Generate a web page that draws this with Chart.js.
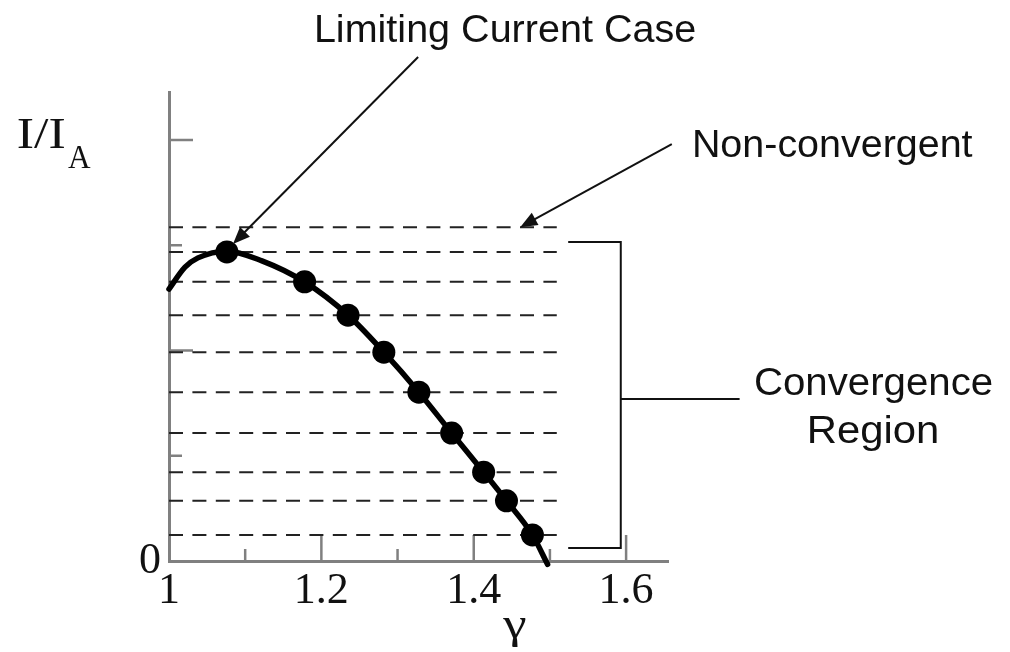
<!DOCTYPE html>
<html>
<head>
<meta charset="utf-8">
<title>Limiting Current Case</title>
<script src="https://cdn.jsdelivr.net/npm/chart.js@4.4.1/dist/chart.umd.min.js"></script>
<style>
  html, body { margin: 0; padding: 0; background: #fff; }
  canvas { display: block; }
</style>
</head>
<body>
<canvas id="grafico" width="1010" height="652"></canvas>
<script>
// Curva I/I_A em função de gamma
const curveGamma   = [1.000, 1.021, 1.038, 1.076, 1.122, 1.178, 1.235, 1.282, 1.328, 1.371, 1.413, 1.443, 1.477, 1.497];
const curveCurrent = [0.646, 0.698, 0.720, 0.736, 0.713, 0.663, 0.584, 0.496, 0.401, 0.304, 0.211, 0.143, 0.062, -0.008];

// Pontos marcados sobre a curva
const pointGamma   = [1.076, 1.178, 1.235, 1.282, 1.328, 1.371, 1.413, 1.443, 1.477];
const pointCurrent = [0.734, 0.663, 0.584, 0.496, 0.401, 0.304, 0.211, 0.143, 0.062];

// Níveis tracejados (o primeiro é o caso não convergente)
const levelCurrent = [0.793, 0.734, 0.663, 0.584, 0.496, 0.401, 0.304, 0.211, 0.143, 0.062];
const levelGamma   = [1.0, 1.509];

// Eixos
const xTickValues = [1, 1.1, 1.2, 1.3, 1.4, 1.5, 1.6];
const xTickLabels = ['1', '', '1.2', '', '1.4', '', '1.6'];
const yTickValues = [0, 0.25, 0.5, 0.75, 1];
const yTickLabels = ['0', '', '', '', ''];

const INK = '#111';
const AXIS_GRAY = '#808080';
const SERIF = '"Liberation Serif", "Times New Roman", serif';
const SANS = '"Liberation Sans", Arial, sans-serif';

// escreve um texto esticado para ocupar a largura vista na figura
const drawText = (ctx, str, left, right, baseline, font) => {
    ctx.font = font;
    const m = ctx.measureText(str);
    const ink = m.actualBoundingBoxLeft + m.actualBoundingBoxRight;
    const s = (right - left) / ink;
    ctx.save();
    ctx.translate(left + m.actualBoundingBoxLeft * s, baseline);
    ctx.scale(s, 1);
    ctx.textAlign = 'left';
    ctx.textBaseline = 'alphabetic';
    ctx.fillStyle = INK;
    ctx.fillText(str, 0, 0);
    ctx.restore();
};

const drawArrow = (ctx, x0, y0, x1, y1) => {
    const ang = Math.atan2(y1 - y0, x1 - x0);
    const len = 17, half = 7;
    ctx.beginPath();
    ctx.moveTo(x0, y0);
    ctx.lineTo(x1 - Math.cos(ang) * len * 0.8, y1 - Math.sin(ang) * len * 0.8);
    ctx.stroke();
    ctx.beginPath();
    ctx.moveTo(x1, y1);
    ctx.lineTo(x1 - Math.cos(ang) * len - Math.sin(ang) * half, y1 - Math.sin(ang) * len + Math.cos(ang) * half);
    ctx.lineTo(x1 - Math.cos(ang) * len + Math.sin(ang) * half, y1 - Math.sin(ang) * len - Math.cos(ang) * half);
    ctx.closePath();
    ctx.fill();
};

const anotacoes = {
    id: 'anotacoes',
    beforeDatasetsDraw(chart) {
        // marcas dos eixos voltadas para dentro
        const ctx = chart.ctx;
        const xs = chart.scales.x, ys = chart.scales.y;
        const x0 = xs.getPixelForValue(1), y0 = ys.getPixelForValue(0);
        ctx.save();
        ctx.strokeStyle = AXIS_GRAY;
        ctx.lineWidth = 2.5;
        xTickValues.slice(1).forEach((v, i) => {
            const px = xs.getPixelForValue(v);
            const len = xTickLabels[i + 1] ? 26 : 12;
            ctx.beginPath();
            ctx.moveTo(px, y0);
            ctx.lineTo(px, y0 - len);
            ctx.stroke();
        });
        yTickValues.slice(1).forEach(v => {
            const py = ys.getPixelForValue(v);
            const len = (v * 2) % 1 === 0 ? 24 : 13;
            ctx.beginPath();
            ctx.moveTo(x0, py);
            ctx.lineTo(x0 + len, py);
            ctx.stroke();
        });
        ctx.restore();
    },
    afterDraw(chart) {
        const ctx = chart.ctx;
        const xs = chart.scales.x, ys = chart.scales.y;
        const X = v => xs.getPixelForValue(v);
        const Y = v => ys.getPixelForValue(v);
        ctx.save();
        ctx.strokeStyle = INK;
        ctx.fillStyle = INK;
        ctx.lineWidth = 2;

        // setas
        drawArrow(ctx, X(1.327), Y(1.197), X(1.084), Y(0.753));
        drawArrow(ctx, X(1.660), Y(0.990), X(1.461), Y(0.793));

        // chave da região de convergência
        ctx.beginPath();
        ctx.moveTo(X(1.524), Y(0.758));
        ctx.lineTo(X(1.593), Y(0.758));
        ctx.lineTo(X(1.593), Y(0.031));
        ctx.lineTo(X(1.524), Y(0.031));
        ctx.moveTo(X(1.593), Y(0.385));
        ctx.lineTo(X(1.749), Y(0.385));
        ctx.stroke();

        // textos
        drawText(ctx, 'Limiting Current Case', 317, 695, 42, '38px ' + SANS);
        drawText(ctx, 'Non-convergent', 695, 973, 157, '38px ' + SANS);
        drawText(ctx, 'Convergence', 755, 992, 395, '38px ' + SANS);
        drawText(ctx, 'Region', 810, 937, 443, '38px ' + SANS);
        drawText(ctx, 'I/I', 18, 65, 148, '44px ' + SERIF);
        drawText(ctx, 'A', 68, 91, 168, '34px ' + SERIF);
        drawText(ctx, 'γ', 502, 526, 638, '44px ' + SERIF);
        ctx.restore();
    }
};

const levelSets = levelCurrent.map(v => ({
    data: levelGamma.map(g => ({ x: g, y: v })),
    showLine: true,
    borderColor: '#222',
    borderWidth: 2,
    borderDash: [14, 9.4],
    pointRadius: 0,
    order: 3
}));

const ctx = document.getElementById('grafico').getContext('2d');
new Chart(ctx, {
    type: 'scatter',
    data: {
        datasets: [
            {
                data: pointGamma.map((g, i) => ({ x: g, y: pointCurrent[i] })),
                pointRadius: 11.5,
                pointBackgroundColor: '#000',
                pointBorderWidth: 0,
                showLine: false,
                clip: false,
                order: 1
            },
            {
                data: curveGamma.map((g, i) => ({ x: g, y: curveCurrent[i] })),
                showLine: true,
                borderColor: '#000',
                borderWidth: 5.5,
                borderCapStyle: 'round',
                cubicInterpolationMode: 'monotone',
                pointRadius: 0,
                clip: false,
                order: 2
            },
            ...levelSets
        ]
    },
    options: {
        responsive: false,
        animation: false,
        events: [],
        layout: { padding: { top: 92, right: 342, left: 0, bottom: 0 } },
        plugins: { legend: { display: false }, tooltip: { enabled: false } },
        scales: {
            x: {
                type: 'linear',
                min: 1,
                max: 1.655,
                afterFit: s => { s.height = 91; },
                afterBuildTicks: s => { s.ticks = xTickValues.map(v => ({ value: v })); },
                grid: { display: false, drawTicks: false },
                border: { display: true, color: AXIS_GRAY, width: 3 },
                ticks: {
                    autoSkip: false,
                    maxRotation: 0,
                    padding: 4,
                    color: INK,
                    font: { family: SERIF, size: 44 },
                    callback: (v, i) => xTickLabels[i]
                }
            },
            y: {
                type: 'linear',
                min: 0,
                max: 1.114,
                afterFit: s => { s.width = 169; },
                afterBuildTicks: s => { s.ticks = yTickValues.map(v => ({ value: v })); },
                grid: { display: false, drawTicks: false },
                border: { display: true, color: AXIS_GRAY, width: 3 },
                ticks: {
                    autoSkip: false,
                    padding: 8,
                    color: INK,
                    font: { family: SERIF, size: 44 },
                    callback: (v, i) => yTickLabels[i]
                }
            }
        }
    },
    plugins: [anotacoes]
});
</script>
</body>
</html>
